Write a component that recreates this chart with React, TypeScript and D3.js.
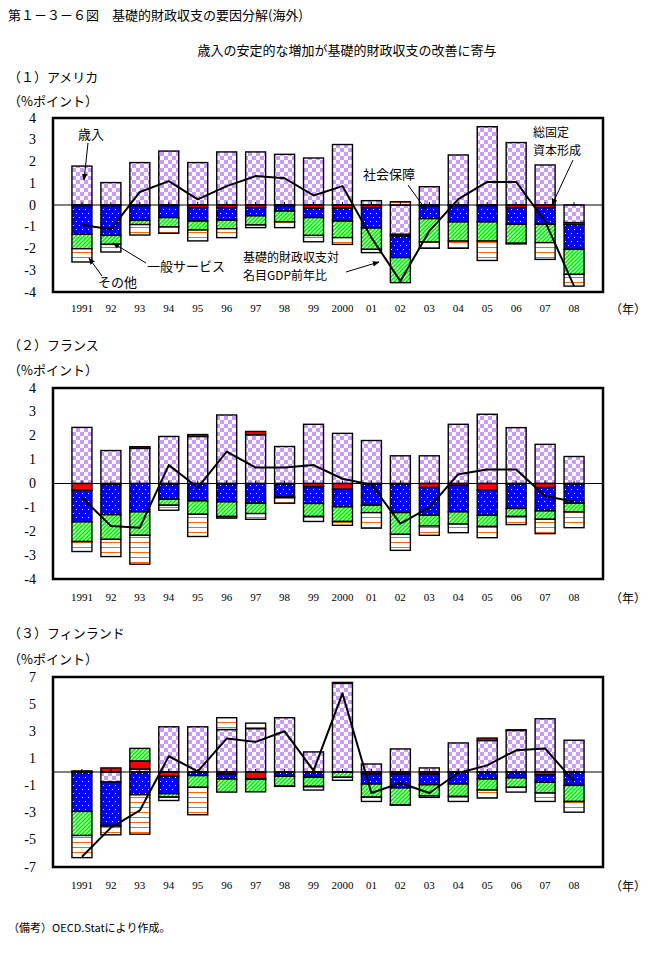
import React from 'react';
import * as d3 from 'd3';

const yearLabels = ["1991","92","93","94","95","96","97","98","99","2000","01","02","03","04","05","06","07","08"];
const seriesNames = ["歳入","総固定資本形成","一般サービス","社会保障","その他"];

// United States
const usRevenue = [1.79,1.03,1.95,2.48,1.95,2.44,2.44,2.33,2.16,2.78,0.2,-1.35,0.84,2.3,3.6,2.87,1.84,-0.81];
const usCapital = [-0.03,-0.03,-0.03,-0.03,-0.12,-0.12,-0.12,-0.03,-0.15,-0.15,-0.12,-0.08,-0.04,-0.03,-0.03,-0.12,-0.12,-0.09];
const usGeneral = [-1.32,-1.37,-0.68,-0.55,-0.62,-0.58,-0.38,-0.25,-0.43,-0.59,-0.94,-0.99,-0.59,-0.75,-0.75,-0.77,-0.77,-1.14];
const usSocial = [-0.66,-0.41,-0.19,-0.42,-0.41,-0.39,-0.42,-0.49,-0.82,-0.76,-0.98,-1.15,-1.07,-0.88,-0.88,-0.87,-0.84,-1.15];
const usOther = [-0.61,-0.35,-0.48,-0.3,-0.5,-0.41,-0.12,-0.27,-0.29,-0.31,-0.15,0.15,-0.29,-0.33,-0.89,-0.03,-0.77,-0.54];
const usBalance = [-0.92,-1.12,0.6,1.1,0.26,0.87,1.33,1.23,0.44,0.87,-1.5,-3.5,-1.2,0.27,1.06,1.06,-0.75,-3.73];

// France
const frRevenue = [2.35,1.38,1.47,1.97,1.97,2.87,2.04,1.55,2.48,2.1,1.8,1.16,1.16,2.48,2.9,2.34,1.64,1.13];
const frCapital = [-0.28,-0.05,0.07,-0.02,0.08,-0.02,0.14,-0.02,-0.13,-0.24,-0.02,-0.02,-0.17,-0.08,-0.27,-0.02,-0.17,-0.02];
const frGeneral = [-1.33,-1.26,-1.19,-0.64,-0.73,-0.75,-0.83,-0.54,-0.71,-0.74,-0.89,-1.2,-1.16,-1.11,-1.06,-1.03,-0.98,-0.81];
const frSocial = [-0.82,-1.03,-0.98,-0.25,-0.56,-0.61,-0.43,-0.04,-0.54,-0.61,-0.31,-0.91,-0.45,-0.51,-0.47,-0.33,-0.35,-0.36];
const frOther = [-0.42,-0.72,-1.21,-0.21,-0.93,-0.07,-0.24,-0.23,-0.21,-0.16,-0.65,-0.67,-0.39,-0.36,-0.47,-0.34,-0.6,-0.66];
const frBalance = [-0.59,-1.78,-1.85,0.77,-0.17,1.33,0.67,0.67,0.77,0.2,-0.05,-1.68,-1.0,0.39,0.59,0.59,-0.52,-0.76];

// Finland
const fiRevenue = [0.08,-0.74,0.22,3.33,3.33,3.13,3.2,4.0,1.48,6.53,0.59,1.7,0.3,2.14,2.32,3.06,3.92,2.34];
const fiCapital = [-0.02,0.3,0.6,-0.32,-0.02,-0.15,-0.49,-0.02,-0.02,0.07,-0.15,-0.15,-0.15,-0.02,0.18,0.05,-0.2,-0.02];
const fiGeneral = [-2.89,-3.2,-1.68,-1.28,-0.25,-0.37,-0.05,-0.3,-0.37,-0.02,-0.74,-1.03,-0.79,-0.87,-0.52,-0.44,-0.56,-0.97];
const fiSocial = [-1.77,-0.05,0.92,-0.25,-0.86,-0.96,-0.92,-0.72,-0.67,-0.37,-0.96,-1.24,-0.81,-0.91,-0.81,-0.69,-0.79,-1.18];
const fiOther = [-1.63,-0.64,-2.9,-0.25,-2.02,0.87,0.4,-0.02,-0.27,-0.22,-0.32,-0.02,-0.12,-0.37,-0.59,-0.35,-0.62,-0.79];
const fiBalance = [-6.24,-4.1,-2.83,1.16,0.05,2.46,2.22,3.0,0.1,5.79,-1.55,-0.81,-1.55,-0.07,0.49,1.6,1.73,-0.69];

const usTicks = [4,3,2,1,0,-1,-2,-3,-4];
const frTicks = [4,3,2,1,0,-1,-2,-3,-4];
const fiTicks = [7,5,3,1,-1,-3,-5,-7];

const keys = ["revenue","capital","general","social","other"];
const fills = ["url(#checker)","#FF0000","url(#dots)","url(#hatch)","url(#stripes)"];

const JP = "'Noto Sans CJK JP', sans-serif";
const SERIF = "'Liberation Serif', 'DejaVu Serif', serif";

type PanelProps = {
  top: number; bottom: number; domain: [number, number]; ticks: number[];
  series: number[][]; balance: number[]; labelY: number;
};

function Panel({ top, bottom, domain, ticks, series, balance, labelY }: PanelProps) {
  const left = 53, right = 603;
  const x = d3.scalePoint<string>().domain(yearLabels).range([left, right]).padding(1);
  const y = d3.scaleLinear().domain(domain).range([bottom, top]);
  const rows = yearLabels.map((yr, i) => {
    const r: any = { year: yr };
    keys.forEach((k, j) => { r[k] = series[j][i]; });
    return r;
  });
  const stacked = d3.stack<any>().keys(keys).offset(d3.stackOffsetDiverging)(rows);
  const bw = 20;
  const line = d3.line<number>().x((_, i) => x(yearLabels[i]) as number).y(d => y(d));
  return (
    <g>
      {stacked.map((s, j) => (
        <g key={keys[j]}>
          {s.map((d, i) => {
            const cx = x(yearLabels[i]) as number;
            const y0 = y(d[0]), y1 = y(d[1]);
            const yy = Math.min(y0, y1), h = Math.abs(y1 - y0);
            if (h < 0.01) return null;
            return <rect key={i} x={cx - bw / 2} y={yy} width={bw} height={h}
              fill={fills[j]} stroke="#000" strokeWidth={1.4} />;
          })}
        </g>
      ))}
      <line x1={left} x2={right} y1={y(0)} y2={y(0)} stroke="#000" strokeWidth={1} />
      {yearLabels.map(yr => (
        <line key={yr} x1={x(yr)} x2={x(yr)} y1={y(0)} y2={y(0) - 3} stroke="#000" strokeWidth={1} />
      ))}
      <path d={line(balance) || ''} fill="none" stroke="#000" strokeWidth={2} strokeLinejoin="round" />
      <rect x={left} y={top} width={right - left} height={bottom - top} fill="none" stroke="#000" strokeWidth={2.5} />
      {ticks.map(t => (
        <text key={t} x={36} y={y(t)} textAnchor="end" dominantBaseline="central"
          fontFamily={SERIF} fontSize={14}>{t}</text>
      ))}
      {yearLabels.map(yr => (
        <text key={yr} x={x(yr)} y={labelY} textAnchor="middle" dominantBaseline="central"
          fontFamily={SERIF} fontSize={11}>{yr}</text>
      ))}
      <text x={610} y={labelY} dominantBaseline="central" fontFamily={JP} fontSize={12}>（年）</text>
    </g>
  );
}

export default function App() {
  const arrow = "url(#arr)";
  return (
    <svg width={659} height={963} style={{ position: 'absolute', left: 0, top: 0, background: '#fff' }}>
      <defs>
        <pattern id="checker" width={8} height={8} patternUnits="userSpaceOnUse">
          <rect width={8} height={8} fill="#fff" />
          <rect x={0} y={0} width={4} height={4} fill="#CC99FF" />
          <rect x={4} y={4} width={4} height={4} fill="#CC99FF" />
        </pattern>
        <pattern id="dots" width={6} height={8} patternUnits="userSpaceOnUse">
          <rect width={6} height={8} fill="#0000FF" />
          <rect x={1} y={1} width={1} height={1} fill="#fff" />
          <rect x={4} y={5} width={1} height={1} fill="#fff" />
        </pattern>
        <pattern id="hatch" width={4} height={4} patternUnits="userSpaceOnUse">
          <rect width={4} height={4} fill="#fff" />
          <path d="M-1,1 L1,-1 M0,4 L4,0 M3,5 L5,3" stroke="#00EE00" strokeWidth={1.6} />
        </pattern>
        <pattern id="stripes" width={4} height={5} patternUnits="userSpaceOnUse">
          <rect width={4} height={5} fill="#fff" />
          <rect x={0} y={2} width={4} height={1} fill="#FF6600" />
        </pattern>
        <marker id="arr" viewBox="0 0 10 10" refX={9} refY={5} markerWidth={7} markerHeight={7} orient="auto-start-reverse">
          <path d="M0,1 L10,5 L0,9 z" fill="#000" />
        </marker>
      </defs>

      <text x={8} y={20} fontFamily={JP} fontSize={13}>第１－３－６図　基礎的財政収支の要因分解(海外)</text>
      <text x={347} y={55} textAnchor="middle" fontFamily={JP} fontSize={13}>歳入の安定的な増加が基礎的財政収支の改善に寄与</text>

      <text x={8} y={82} fontFamily={JP} fontSize={13}>（１）アメリカ</text>
      <text x={8} y={106} fontFamily={JP} fontSize={13}>（%ポイント）</text>
      <Panel top={118} bottom={292} domain={[-4, 4]} ticks={usTicks}
        series={[usRevenue, usCapital, usGeneral, usSocial, usOther]} balance={usBalance} labelY={308} />

      <text x={78} y={139} fontFamily={JP} fontSize={13}>{seriesNames[0]}</text>
      <line x1={88} y1={143} x2={84} y2={180} stroke="#000" strokeWidth={1} markerEnd={arrow} />
      <text x={147} y={271} fontFamily={JP} fontSize={13}>{seriesNames[2]}</text>
      <line x1={146} y1={263} x2={113} y2={243} stroke="#000" strokeWidth={1} markerEnd={arrow} />
      <text x={98} y={287} fontFamily={JP} fontSize={13}>{seriesNames[4]}</text>
      <line x1={102} y1={276} x2={89} y2={258} stroke="#000" strokeWidth={1} markerEnd={arrow} />
      <text x={243} y={262} fontFamily={JP} fontSize={12}>基礎的財政収支対</text>
      <text x={243} y={280} fontFamily={JP} fontSize={12}>名目GDP前年比</text>
      <line x1={346} y1={272} x2={379} y2={262} stroke="#000" strokeWidth={1} markerEnd={arrow} />
      <text x={363} y={179} fontFamily={JP} fontSize={13}>{seriesNames[3]}</text>
      <line x1={408} y1={185} x2={426} y2={210} stroke="#000" strokeWidth={1} markerEnd={arrow} />
      <text x={533} y={137} fontFamily={JP} fontSize={12}>総固定</text>
      <text x={533} y={155} fontFamily={JP} fontSize={12}>資本形成</text>
      <line x1={573} y1={160} x2={552} y2={205} stroke="#000" strokeWidth={1} markerEnd={arrow} />

      <text x={8} y={350} fontFamily={JP} fontSize={13}>（２）フランス</text>
      <text x={8} y={375} fontFamily={JP} fontSize={13}>（%ポイント）</text>
      <Panel top={388} bottom={579} domain={[-4, 4]} ticks={frTicks}
        series={[frRevenue, frCapital, frGeneral, frSocial, frOther]} balance={frBalance} labelY={597} />

      <text x={8} y={638} fontFamily={JP} fontSize={13}>（３）フィンランド</text>
      <text x={8} y={664} fontFamily={JP} fontSize={13}>（%ポイント）</text>
      <Panel top={677} bottom={867} domain={[-7, 7]} ticks={fiTicks}
        series={[fiRevenue, fiCapital, fiGeneral, fiSocial, fiOther]} balance={fiBalance} labelY={885} />

      <text x={8} y={932} fontFamily={JP} fontSize={11}>（備考）OECD.Statにより作成。</text>
    </svg>
  );
}
